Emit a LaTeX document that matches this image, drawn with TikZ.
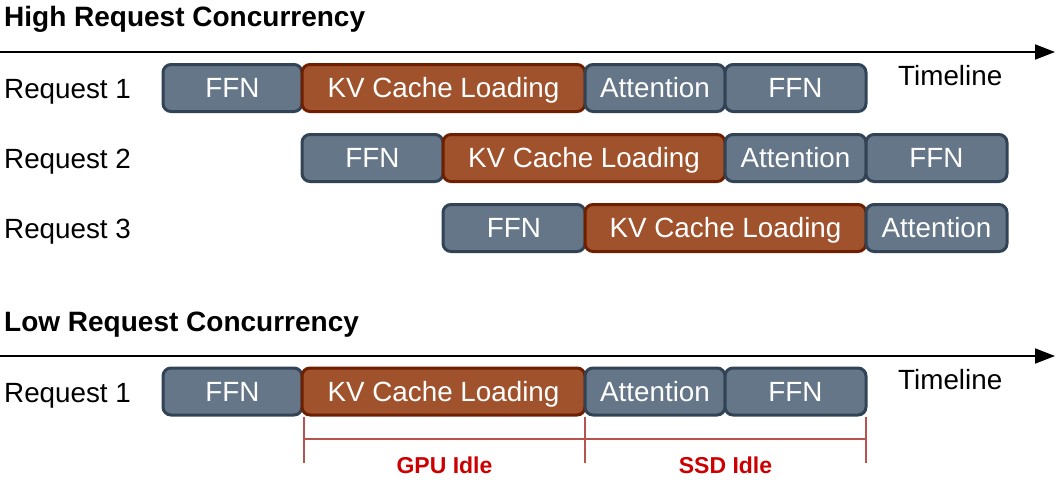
\documentclass[tikz,border=0pt]{standalone}
\usepackage{fontspec}
\setmainfont{Liberation Sans}
\usetikzlibrary{arrows.meta}
\definecolor{gfill}{HTML}{647687}
\definecolor{gdraw}{HTML}{314354}
\definecolor{bfill}{HTML}{A0522D}
\definecolor{bdraw}{HTML}{6D1F00}
\definecolor{idlered}{HTML}{CC0000}
\definecolor{brk}{HTML}{B85450}
\tikzset{
  stage/.style={rectangle, rounded corners=8pt, line width=3pt, minimum height=47pt,
    inner sep=0pt, text=white, text height=19pt, text depth=0pt,
    font=\fontsize{27.8}{33}\selectfont},
  gbox/.style={stage, fill=gfill, draw=gdraw},
  bbox/.style={stage, fill=bfill, draw=bdraw},
  lbl/.style={anchor=base west, inner sep=0pt, font=\fontsize{27.8}{33}\selectfont},
  ttl/.style={anchor=base west, inner sep=0pt, font=\fontsize{28}{33}\selectfont\bfseries},
  idle/.style={anchor=base, inner sep=0pt, text=idlered, font=\fontsize{23}{27}\selectfont\bfseries},
  tline/.style={line width=2pt, -{Triangle[length=20pt,width=15pt]}},
  brack/.style={draw=brk, line width=2.2pt}
}
\begin{document}
\begin{tikzpicture}[x=1pt,y=-1pt]
\useasboundingbox (0,0) rectangle (1056,479);
% titles
\node[ttl] (t1) at (4,27) {High Request Concurrency};
\node[ttl] (t2) at (4,331) {Low Request Concurrency};
% timelines
\coordinate (a1s) at (0,52);
\coordinate (a1e) at (1055,52);
\coordinate (a2s) at (0,356);
\coordinate (a2e) at (1055,356);
\draw[tline] (a1s) -- (a1e);
\draw[tline] (a2s) -- (a2e);
\node[lbl] (tl1) at (898,85) {Timeline};
\node[lbl] (tl2) at (898,389) {Timeline};
% request labels
\node[lbl] (q1) at (4,98) {Request 1};
\node[lbl] (q2) at (4,168) {Request 2};
\node[lbl] (q3) at (4,238) {Request 3};
\node[lbl] (q4) at (4,402) {Request 1};
% row 1
\node[gbox, minimum width=139pt] (r1a) at (232.5,88) {FFN};
\node[bbox, minimum width=283pt] (r1b) at (443.5,88) {KV Cache Loading};
\node[gbox, minimum width=140pt] (r1c) at (655,88) {Attention};
\node[gbox, minimum width=141pt] (r1d) at (795.5,88) {FFN};
% row 2
\node[gbox, minimum width=141pt] (r2a) at (372.5,158) {FFN};
\node[bbox, minimum width=282pt] (r2b) at (584,158) {KV Cache Loading};
\node[gbox, minimum width=141pt] (r2c) at (795.5,158) {Attention};
\node[gbox, minimum width=141pt] (r2d) at (936.5,158) {FFN};
% row 3
\node[gbox, minimum width=142pt] (r3a) at (514,228) {FFN};
\node[bbox, minimum width=281pt] (r3b) at (725.5,228) {KV Cache Loading};
\node[gbox, minimum width=141pt] (r3c) at (936.5,228) {Attention};
% low concurrency row
\node[gbox, minimum width=139pt] (r4a) at (232.5,391.5) {FFN};
\node[bbox, minimum width=283pt] (r4b) at (443.5,391.5) {KV Cache Loading};
\node[gbox, minimum width=140pt] (r4c) at (655,391.5) {Attention};
\node[gbox, minimum width=141pt] (r4d) at (795.5,391.5) {FFN};
% brackets
\coordinate (k1t) at (304,417);
\coordinate (k1b) at (304,463);
\coordinate (k2t) at (585,417);
\coordinate (k2b) at (585,463);
\coordinate (k3t) at (866,417);
\coordinate (k3b) at (866,463);
\coordinate (h1) at (304,439);
\coordinate (h2) at (866,439);
\draw[brack] (k1t) -- (k1b);
\draw[brack] (k2t) -- (k2b);
\draw[brack] (k3t) -- (k3b);
\draw[brack] (h1) -- (h2);
\node[idle] (gi) at (444.5,473) {GPU Idle};
\node[idle] (si) at (725.5,473) {SSD Idle};
\end{tikzpicture}
\end{document}
